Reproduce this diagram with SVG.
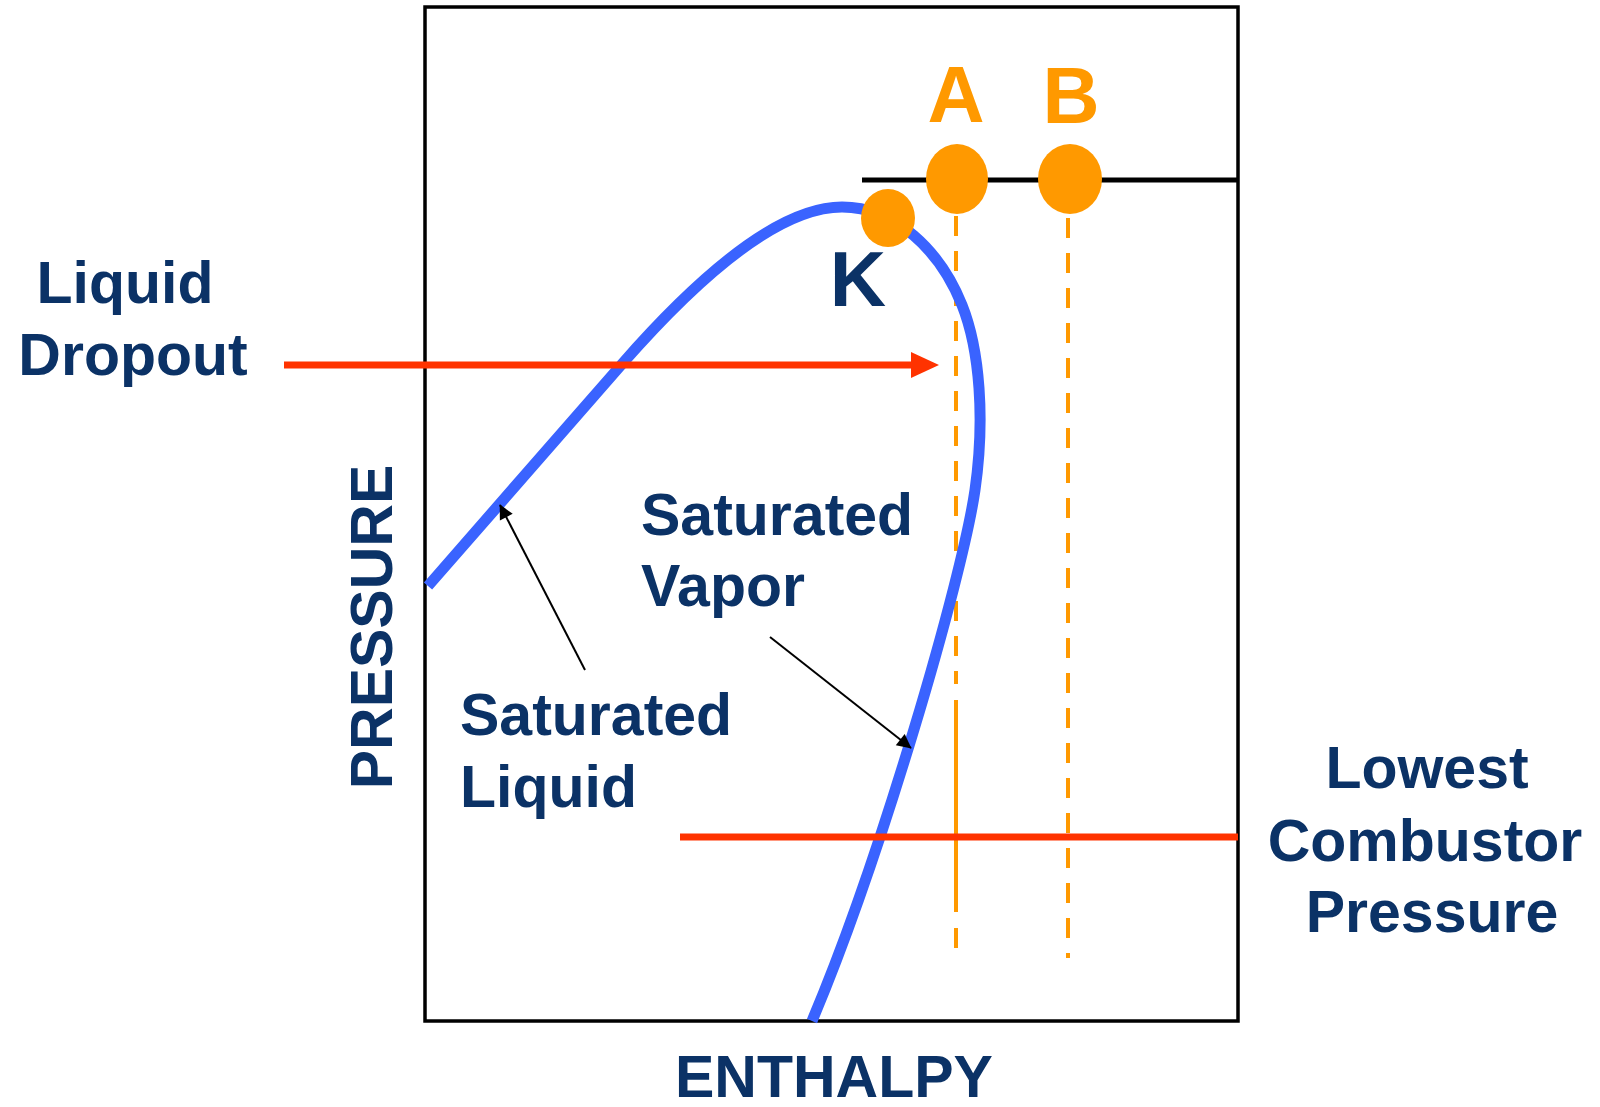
<svg xmlns="http://www.w3.org/2000/svg" width="1600" height="1107" viewBox="0 0 1600 1107">
<style>
.lbl{font-family:"Liberation Sans",Arial,sans-serif;font-weight:bold;font-size:59px;fill:#0b3266}
.pt{font-family:"Liberation Sans",Arial,sans-serif;font-weight:bold;font-size:79px;fill:#ff9900}
.dot{fill:#ff9900}
.dash{stroke:#ff9900;stroke-width:4;fill:none;stroke-dasharray:20 15}
.red{stroke:#ff3300;stroke-width:7;fill:none}
.ptr{stroke:#000;stroke-width:2;fill:none;marker-end:url(#ah)}
</style>
<defs>
<marker id="ah" viewBox="0 0 10 10" refX="9" refY="5" markerWidth="8" markerHeight="8" markerUnits="userSpaceOnUse" orient="auto" overflow="visible">
<path d="M0,0 L10,5 L0,10 z" fill="#000" transform="scale(1.8) translate(-4.5,-2.2)"/>
</marker>
</defs>
<rect width="1600" height="1107" fill="#fff"/>
<g id="frame">
<rect x="425" y="7" width="813" height="1014" fill="none" stroke="#000" stroke-width="3.5"/>
</g>
<g id="connectors">
<line x1="862" y1="180" x2="1238" y2="180" stroke="#000" stroke-width="5"/>
<line class="dash" x1="956" y1="216" x2="956" y2="684"/>
<line x1="956" y1="700" x2="956" y2="912" stroke="#ff9900" stroke-width="4"/>
<line class="dash" x1="956" y1="928" x2="956" y2="948"/>
<line class="dash" x1="1068" y1="218" x2="1068" y2="958"/>
<path id="curve" d="M428,586 L622,364 C700,275 780,207 842,207 C895,207 940,250 962,305 C980,350 985,420 975,490 C962,580 880,860 812,1021" fill="none" stroke="#3a63ff" stroke-width="11"/>
<line class="red" x1="284" y1="365" x2="912" y2="365"/>
<path d="M911,352 L939,365 L911,378 z" fill="#ff3300"/>
<line class="red" x1="680" y1="837" x2="1238" y2="837"/>
<line class="ptr" x1="585" y1="670" x2="500" y2="505"/>
<line class="ptr" x1="770" y1="637" x2="911" y2="748"/>
</g>
<g id="pointK"><ellipse class="dot" cx="888" cy="218" rx="27" ry="29"/><text class="pt" style="fill:#0b3266;font-size:78px" x="858" y="306" text-anchor="middle">K</text></g>
<g id="pointA"><ellipse class="dot" cx="957" cy="179" rx="31" ry="35"/><text class="pt" x="956" y="122" text-anchor="middle">A</text></g>
<g id="pointB"><ellipse class="dot" cx="1070" cy="179" rx="32" ry="35"/><text class="pt" x="1071" y="123" text-anchor="middle">B</text></g>
<g id="liquidDropout"><text class="lbl" x="125" y="303" text-anchor="middle">Liquid</text><text class="lbl" x="133" y="375" text-anchor="middle">Dropout</text></g>
<g id="satVapor"><text class="lbl" x="641" y="535">Saturated</text><text class="lbl" x="641" y="606">Vapor</text></g>
<g id="satLiquid"><text class="lbl" x="460" y="735">Saturated</text><text class="lbl" x="460" y="807">Liquid</text></g>
<g id="lowest"><text class="lbl" x="1427" y="788" text-anchor="middle">Lowest</text><text class="lbl" x="1425" y="861" text-anchor="middle">Combustor</text><text class="lbl" x="1432" y="932" text-anchor="middle">Pressure</text></g>
<g id="enthalpy"><text class="lbl" x="834" y="1097" text-anchor="middle">ENTHALPY</text></g>
<g id="pressure"><text class="lbl" transform="translate(392,627) rotate(-90)" text-anchor="middle">PRESSURE</text></g>
</svg>
